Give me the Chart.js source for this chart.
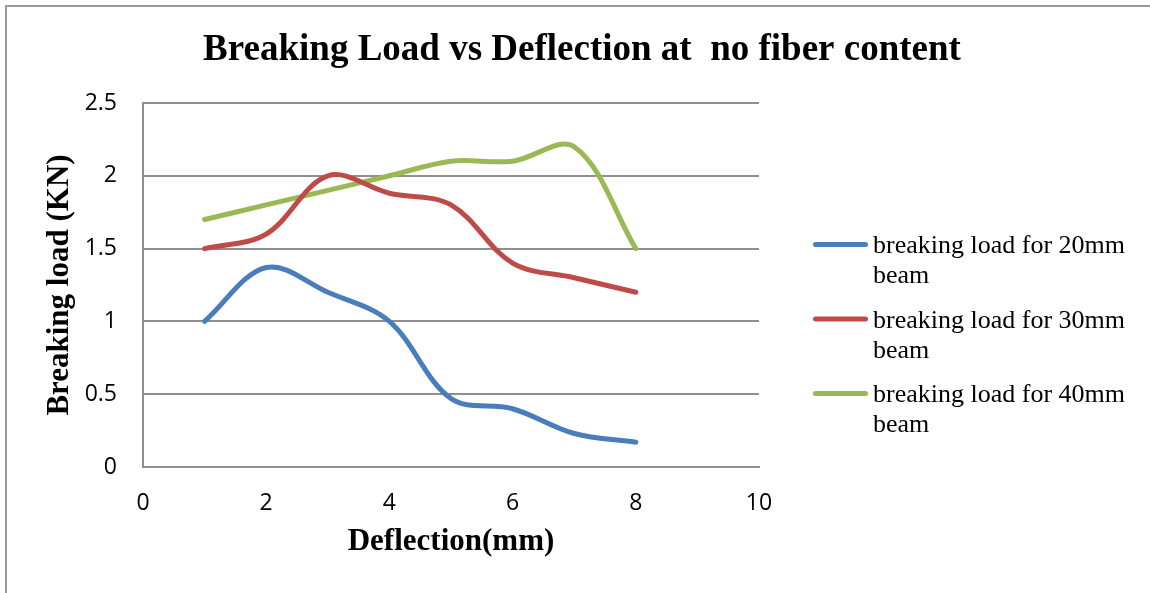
<!DOCTYPE html>
<html>
<head>
<meta charset="utf-8">
<title>Breaking Load vs Deflection</title>
<script src="https://cdn.jsdelivr.net/npm/chart.js@4.4.1/dist/chart.umd.min.js"></script>
<style>
  html, body { margin: 0; padding: 0; background: #fff; }
  #wrap { position: relative; width: 1150px; height: 593px; overflow: hidden; }
  #frame { position: absolute; left: 5px; top: 5px; width: 1200px; height: 700px;
           border-left: 2px solid #9a9a9a; border-top: 2px solid #9a9a9a; }
  canvas { position: absolute; left: 0; top: 0; }
</style>
</head>
<body>
<div id="wrap">
  <div id="frame"></div>
  <canvas id="chart" width="1150" height="593"></canvas>
</div>
<script>
// deflection (mm) at each reading
const deflection = [1, 2, 3, 4, 5, 6, 7, 8];
// breaking load (KN) per beam size
const load20 = [1.0, 1.37, 1.2, 1.0, 0.47, 0.4, 0.23, 0.17];
const load30 = [1.5, 1.6, 2.0, 1.88, 1.8, 1.4, 1.3, 1.2];
const load40 = [1.7, 1.8, 1.9, 2.0, 2.1, 2.1, 2.2, 1.5];
const seriesLabels = [
    'breaking load for 20mm beam',
    'breaking load for 30mm beam',
    'breaking load for 40mm beam'
];
const seriesColors = ['#4a7ebb', '#be4b48', '#98b954'];

const serif = '"Liberation Serif", "Times New Roman", serif';
const sans = '"Open Sans", sans-serif';

function toPoints(values) {
    return deflection.map((x, i) => ({ x: x, y: values[i] }));
}

// split a label into lines no wider than maxWidth
function wrapText(ctx, text, maxWidth) {
    const words = text.split(' ');
    const lines = [];
    let line = '';
    words.forEach(word => {
        const test = line ? line + ' ' + word : word;
        if (line && ctx.measureText(test).width > maxWidth) {
            lines.push(line);
            line = word;
        } else {
            line = test;
        }
    });
    if (line) lines.push(line);
    return lines;
}

// legend on the right, drawn into its own layout box so the title stays centred
const sideLegend = {
    id: 'sideLegend',
    beforeInit(chart) {
        const box = {
            position: 'right',
            weight: 1000,
            fullSize: false,
            options: {},
            width: 0, height: 0, left: 0, top: 0, right: 0, bottom: 0,
            isHorizontal() { return false; },
            update(maxWidth, maxHeight) {
                this.width = 391;
                this.height = maxHeight;
            },
            draw() {
                const ctx = chart.ctx;
                ctx.save();
                ctx.font = '26px ' + serif;
                ctx.textBaseline = 'alphabetic';
                chart.data.datasets.forEach((ds, i) => {
                    const y = this.top + 141.5 + i * 74.5;
                    ctx.strokeStyle = ds.borderColor;
                    ctx.lineWidth = 5;
                    ctx.lineCap = 'round';
                    ctx.beginPath();
                    ctx.moveTo(this.left + 56.5, y);
                    ctx.lineTo(this.left + 106.5, y);
                    ctx.stroke();
                    ctx.fillStyle = '#000';
                    wrapText(ctx, ds.label, 267).forEach((line, j) => {
                        ctx.fillText(line, this.left + 114, y + 8.5 + j * 30);
                    });
                });
                ctx.restore();
            }
        };
        Chart.layouts.addBox(chart, box);
    }
};

const datasets = [load20, load30, load40].map((values, i) => ({
    label: seriesLabels[i],
    data: toPoints(values),
    borderColor: seriesColors[i],
    backgroundColor: seriesColors[i],
    borderWidth: 5,
    borderCapStyle: 'round',
    borderJoinStyle: 'round',
    pointRadius: 0,
    tension: 0.35,
    fill: false
}));

const ctx = document.getElementById('chart').getContext('2d');
const chart = new Chart(ctx, {
    type: 'line',
    data: { datasets: datasets },
    options: {
        responsive: false,
        animation: false,
        devicePixelRatio: 1,
        layout: { padding: { left: 14, right: 0, top: 0, bottom: 0 } },
        plugins: {
            legend: { display: false },
            tooltip: { enabled: false },
            title: {
                display: true,
                text: 'Breaking Load vs Deflection at  no fiber content',
                color: '#000',
                font: { family: serif, size: 37, weight: 'bold', lineHeight: 1.2 },
                padding: { top: 28, bottom: 30.6 }
            }
        },
        scales: {
            x: {
                type: 'linear',
                min: 0,
                max: 10,
                afterFit(scale) { scale.height = 126; },
                grid: { display: false, drawTicks: false },
                border: { display: true, color: '#8f8f8f', width: 2 },
                ticks: {
                    stepSize: 2,
                    padding: 23,
                    color: '#000',
                    font: { family: sans, size: 23 }
                },
                title: {
                    display: true,
                    text: 'Deflection(mm)',
                    color: '#000',
                    font: { family: serif, size: 31, weight: 'bold', lineHeight: 1.2 },
                    padding: { top: 0, bottom: 32 }
                }
            },
            y: {
                min: 0,
                max: 2.5,
                afterFit(scale) { scale.width = 129; },
                grid: { color: '#8f8f8f', lineWidth: 2, drawTicks: false },
                border: { display: true, color: '#8f8f8f', width: 2 },
                ticks: {
                    stepSize: 0.5,
                    padding: 26,
                    color: '#000',
                    font: { family: sans, size: 23 },
                    callback: value => String(value)
                },
                title: {
                    display: true,
                    text: 'Breaking load (KN)',
                    color: '#000',
                    font: { family: serif, size: 31, weight: 'bold', lineHeight: 1.2 },
                    padding: { top: 27, bottom: 0 }
                }
            }
        }
    },
    plugins: [sideLegend]
});
</script>
</body>
</html>
